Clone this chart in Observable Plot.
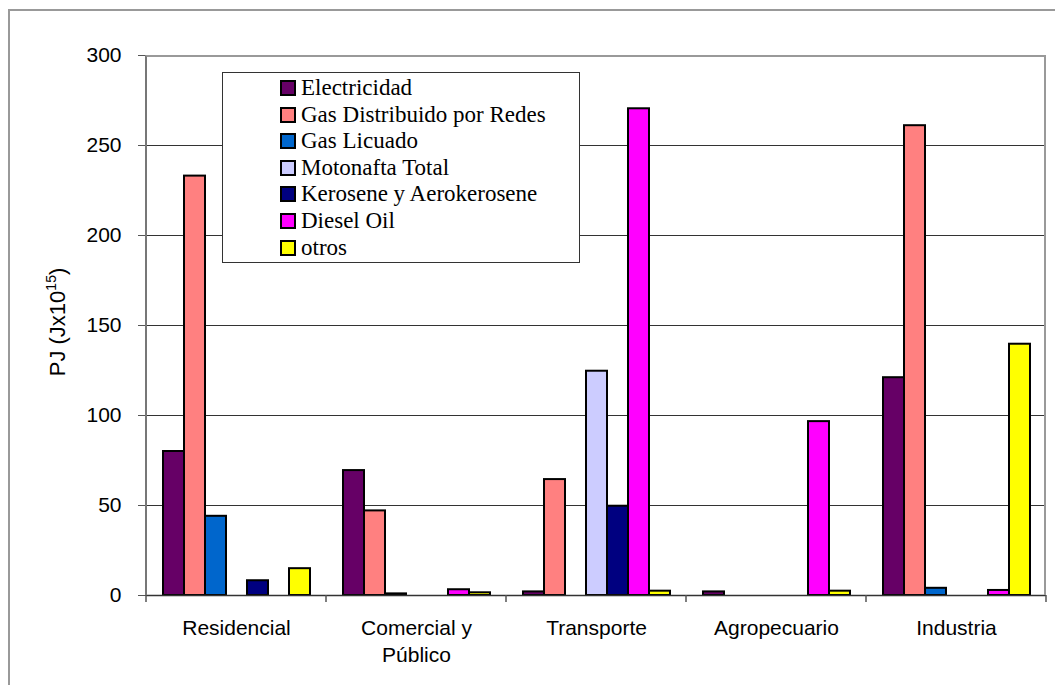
<!DOCTYPE html>
<html>
<head>
<meta charset="utf-8">
<script src="https://cdn.jsdelivr.net/npm/d3@7"></script>
<script src="https://cdn.jsdelivr.net/npm/@observablehq/plot@0.6"></script>
<style>
  html, body { margin: 0; padding: 0; background: #fff; overflow: hidden; }
  #wrap { position: relative; width: 1055px; height: 685px; }
  #outer { position: absolute; left: 8px; top: 9px; width: 1100px; height: 720px;
           border-left: 2px solid #999; border-top: 2px solid #999; pointer-events: none; }
  #plotframe { position: absolute; left: 145px; top: 55px; width: 901px; height: 540px; box-sizing: border-box;
               border-left: 2px solid #777; border-top: 2px solid #999; border-right: 2px solid #999; pointer-events: none; }
  #ylabel { position: absolute; left: 57px; top: 322px; transform: translate(-50%, -50%) rotate(-90deg);
            font-family: "Liberation Sans", Arial, sans-serif; font-size: 22px; white-space: nowrap; color: #000; }
  #ylabel sup { font-size: 14px; }
  #legend { position: absolute; left: 222px; top: 72px; width: 358px; height: 191px; box-sizing: border-box;
            border: 1px solid #333; background: #fff; font-family: "Liberation Serif", "Times New Roman", serif;
            font-size: 23px; color: #000; }
  .lg-row { position: absolute; left: 57px; height: 26px; display: flex; align-items: center; white-space: nowrap; }
  .lg-sw { width: 12px; height: 12px; border: 2px solid #000; margin-right: 5px; }
</style>
</head>
<body>
<div id="wrap">
  <div id="chart"></div>
  <div id="outer"></div>
  <div id="ylabel">PJ (Jx10<sup>15</sup>)</div>
  <div id="legend"></div>
</div>
<script>
// ---- data ----
const categories = ["Residencial", "Comercial y\nPúblico", "Transporte", "Agropecuario", "Industria"];
const fuels = ["Electricidad", "Gas Distribuido por Redes", "Gas Licuado", "Motonafta Total",
               "Kerosene y Aerokerosene", "Diesel Oil", "otros"];
const fuelColors = ["#660066", "#FF8080", "#0066CC", "#CCCCFF", "#000080", "#FF00FF", "#FFFF00"];
const electricidad = [80, 69.4, 2, 2, 121];
const gasRedes     = [233, 47, 64.4, 0, 261];
const gasLicuado   = [44, 0.9, 0, 0, 4];
const motonafta    = [0, 0, 124.6, 0, 0];
const kerosene     = [8.2, 0, 49.6, 0, 0];
const dieselOil    = [0, 3.2, 270.4, 96.6, 2.8];
const otros        = [14.9, 1.5, 2.4, 2.4, 139.6];
const yTicks = [0, 50, 100, 150, 200, 250, 300];
const gridTicks = [50, 100, 150, 200, 250];

const series = [electricidad, gasRedes, gasLicuado, motonafta, kerosene, dieselOil, otros];
const rows = [];
categories.forEach((c, i) => {
  fuels.forEach((f, j) => {
    const v = series[j][i];
    if (v > 0) rows.push({category: c, fuel: f, value: v});
  });
});

const chart = Plot.plot({
  width: 1055,
  height: 685,
  marginLeft: 145,
  marginRight: 9,
  marginTop: 55,
  marginBottom: 90,
  style: {fontFamily: "'Liberation Sans', Arial, sans-serif", fontSize: "21px", color: "#000", background: "transparent", overflow: "visible"},
  facet: {data: rows, x: "category"},
  fx: {domain: categories, padding: 0, label: null},
  x: {domain: fuels, paddingInner: 0, paddingOuter: 0.7, axis: null},
  y: {domain: [0, 300], label: null},
  color: {domain: fuels, range: fuelColors},
  marks: [
    Plot.ruleY(gridTicks, {stroke: "#333", strokeWidth: 1.2}),
    Plot.barY(rows, {x: "fuel", y: "value", fill: "fuel", stroke: "#000", strokeWidth: 2}),
    Plot.ruleY([0], {stroke: "#333", strokeWidth: 1.5}),
    Plot.axisY({ticks: yTicks, tickSize: 8, tickPadding: 17, label: null, fontSize: 21, stroke: "#555"}),
    Plot.axisFx({anchor: "bottom", tickSize: 0, tickPadding: 20, label: null, lineHeight: 1.3, fontSize: 21, lineAnchor: "top"})
  ]
});
document.getElementById("chart").appendChild(chart);

// boundary tick marks under the baseline, from the fx band scale
const fx = chart.scale("fx");
const yS = chart.scale("y");
const base = yS.apply(0);
const edges = categories.map(c => fx.apply(c));
edges.push(fx.apply(categories[categories.length - 1]) + fx.bandwidth);
d3.select(chart).append("g").selectAll("line").data(edges).join("line")
  .attr("x1", d => d).attr("x2", d => d)
  .attr("y1", base).attr("y2", base + 7)
  .attr("stroke", "#555").attr("stroke-width", 1.5);

// plot frame
const frame = document.createElement("div");
frame.id = "plotframe";
document.getElementById("wrap").appendChild(frame);

// legend
const lg = document.getElementById("legend");
fuels.forEach((f, i) => {
  const r = document.createElement("div");
  r.className = "lg-row";
  r.style.top = (2 + i * 26.6) + "px";
  const sw = document.createElement("div");
  sw.className = "lg-sw";
  sw.style.background = fuelColors[i];
  const t = document.createElement("span");
  t.textContent = f;
  r.appendChild(sw); r.appendChild(t);
  lg.appendChild(r);
});
</script>
</body>
</html>
